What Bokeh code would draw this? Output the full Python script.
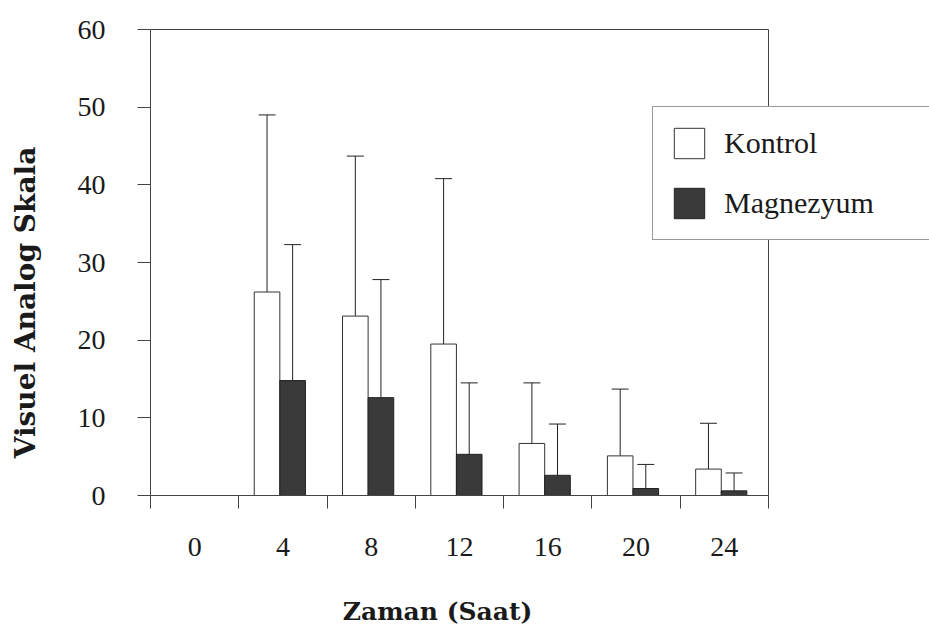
import math
from bokeh.plotting import figure
from bokeh.models import (ColumnDataSource, FixedTicker, Range1d, Label, Legend, LegendItem)
from bokeh.embed import file_html
from bokeh.resources import INLINE

# ---- data ----
hours = ["0", "4", "8", "12", "16", "20", "24"]
kontrol = [0.0, 26.2, 23.1, 19.5, 6.7, 5.1, 3.4]
kontrol_sd = [0.0, 22.8, 20.6, 21.3, 7.8, 8.6, 5.9]
magnezyum = [0.0, 14.8, 12.6, 5.3, 2.6, 0.9, 0.6]
magnezyum_sd = [0.0, 17.5, 15.2, 9.2, 6.6, 3.1, 2.3]
y_ticks = [0, 10, 20, 30, 40, 50, 60]
y_max = 60

SERIF = "Liberation Serif"
BOLD_SERIF = "DejaVu Serif"
AX = "#444444"
TXT = "#1a1a1a"

W, H = 929, 625
# plot area in canvas pixels
PL, PR, PT, PB = 150, 768, 29, 495
n = len(hours)
xpx = (PR - PL) / n
ypx = (PB - PT) / y_max

p = figure(width=W, height=H, output_backend="svg", toolbar_location=None,
           x_range=Range1d(-PL / xpx, n + (W - PR) / xpx),
           y_range=Range1d(-(H - PB) / ypx, y_max + PT / ypx))
p.min_border = 0
p.background_fill_color = "white"
p.border_fill_color = "white"
p.outline_line_color = None
p.xgrid.visible = False
p.ygrid.visible = False

# bars
bw = 0.29
kx = [i + 0.32 for i in range(n)]
mx = [i + 0.61 for i in range(n)]
src_k = ColumnDataSource(dict(x=kx, top=kontrol))
src_m = ColumnDataSource(dict(x=mx, top=magnezyum))

# plot-area border (top and right)
p.segment(x0=[0, n], y0=[y_max, 0], x1=[n, n], y1=[y_max, y_max], line_color=AX, line_width=1)

# error bars (upper only)
cap = 0.096
def err_source(xs, vals, sds):
    d = dict(x=[], y0=[], y1=[], cx0=[], cx1=[])
    for x, v, s in zip(xs, vals, sds):
        if s > 0:
            d["x"].append(x); d["y0"].append(v); d["y1"].append(v + s)
            d["cx0"].append(x - cap); d["cx1"].append(x + cap)
    return ColumnDataSource(d)

ek = err_source(kx, kontrol, kontrol_sd)
em = err_source(mx, magnezyum, magnezyum_sd)
for es in (ek, em):
    p.segment(x0="x", y0="y0", x1="x", y1="y1", source=es, line_color="#222222", line_width=1)
    p.segment(x0="cx0", y0="y1", x1="cx1", y1="y1", source=es, line_color="#222222", line_width=1)

rk = p.vbar(x="x", top="top", bottom=0, width=bw, source=src_k,
            fill_color="white", line_color="#333333", line_width=1)
rm = p.vbar(x="x", top="top", bottom=0, width=bw, source=src_m,
            fill_color="#3a3a3a", line_color="#222222", line_width=1)

# axes
xa = p.xaxis[0]
xa.fixed_location = 0
xa.bounds = (0, n)
xa.ticker = FixedTicker(ticks=[i + 0.5 for i in range(n)], minor_ticks=list(range(n + 1)))
xa.major_label_overrides = {i + 0.5: h for i, h in enumerate(hours)}
xa.major_tick_out = 13
xa.major_tick_in = 0
xa.major_tick_line_color = None
xa.minor_tick_out = 13
xa.minor_tick_in = 0
xa.minor_tick_line_color = AX
xa.axis_line_color = AX
xa.major_label_standoff = 29
xa.major_label_text_font = SERIF
xa.major_label_text_font_size = "28px"
xa.major_label_text_color = TXT

ya = p.yaxis[0]
ya.fixed_location = 0
ya.bounds = (0, y_max)
ya.ticker = FixedTicker(ticks=y_ticks, minor_ticks=[])
ya.major_tick_out = 13
ya.major_tick_in = 0
ya.major_tick_line_color = AX
ya.minor_tick_line_color = None
ya.axis_line_color = AX
ya.major_label_standoff = 32
ya.major_label_text_font = SERIF
ya.major_label_text_font_size = "28px"
ya.major_label_text_color = TXT

# axis titles
p.add_layout(Label(x=25, y=H - 302, x_units="screen", y_units="screen",
                   text="Visuel Analog Skala", angle=math.pi / 2,
                   text_align="center", text_baseline="middle",
                   text_font=BOLD_SERIF, text_font_style="bold",
                   text_font_size="28px", text_color=TXT))
p.add_layout(Label(x=437, y=H - 611, x_units="screen", y_units="screen",
                   text="Zaman (Saat)",
                   text_align="center", text_baseline="middle",
                   text_font=BOLD_SERIF, text_font_style="bold",
                   text_font_size="25px", text_color=TXT))

# legend
legend = Legend(items=[LegendItem(label="Kontrol", renderers=[rk]),
                       LegendItem(label="Magnezyum", renderers=[rm])],
                location=(652, H - 240), margin=0, padding=17, spacing=22,
                glyph_width=38, glyph_height=38, label_standoff=16,
                label_width=190, label_height=30,
                label_text_font=SERIF, label_text_font_size="30px",
                label_text_color=TXT, border_line_color="#333333",
                border_line_width=1, background_fill_color="white",
                background_fill_alpha=1.0)
p.add_layout(legend)

open("out.html", "w").write(file_html(p, INLINE))
